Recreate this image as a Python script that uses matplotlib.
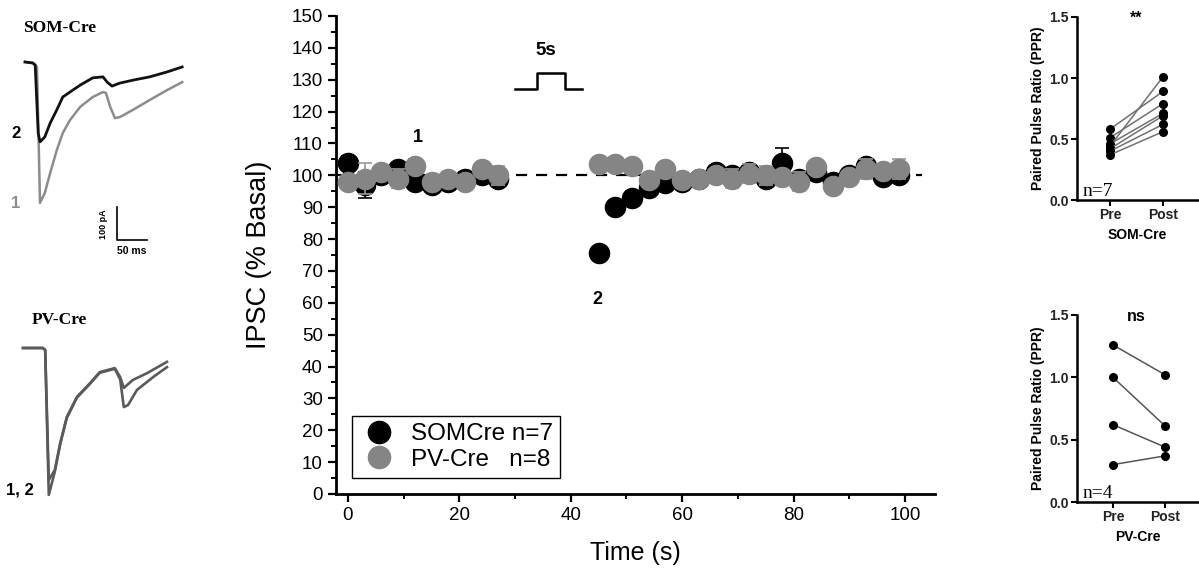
import matplotlib
matplotlib.use("Agg")
import matplotlib.pyplot as plt
from matplotlib.lines import Line2D
from matplotlib.ticker import MultipleLocator

plt.rcParams['font.family'] = ['Liberation Sans', 'DejaVu Sans']

# ---------------- data ----------------
t_pre = [0, 3, 6, 9, 12, 15, 18, 21, 24, 27]
t_post = [45, 48, 51, 54, 57, 60, 63, 66, 69, 72, 75, 78, 81, 84, 87, 90, 93, 96, 99]

som_pre = [104, 97, 100, 102, 98, 97, 98, 99, 100, 99]
som_pre_err = [2, 4, 2, 2, 2, 2, 2, 2, 2, 2]
pv_pre = [98, 99, 101, 99, 103, 98, 99, 98, 102, 100]
pv_pre_err = [2, 5, 2, 3, 2, 2, 2, 2, 2, 3]

som_post = [75.5, 90, 93, 96, 97.5, 98, 99, 101, 100, 101, 99, 104, 99, 101, 98, 100, 103, 99.5, 100]
som_post_err = [2, 2, 2, 2, 2, 2, 2, 2, 2, 2, 2, 4.5, 2, 2, 2, 2, 2, 2, 2]
pv_post = [103.5, 103.5, 103, 98.5, 102, 98.5, 99, 100, 99, 100.5, 100, 99.5, 98, 102.5, 96.5, 99.5, 102, 101.5, 102]
pv_post_err = [1.5, 1.5, 1.5, 2, 2, 2, 2, 2, 3, 3, 3, 2, 3, 2, 2, 2, 3, 2, 3]

# PPR panels
groups = ['Pre', 'Post']
som_ppr_pre = [0.58, 0.51, 0.44, 0.46, 0.42, 0.40, 0.37]
som_ppr_post = [0.89, 0.79, 1.01, 0.71, 0.69, 0.62, 0.56]
pv_ppr_pre = [1.26, 1.00, 0.62, 0.30]
pv_ppr_post = [1.02, 0.61, 0.44, 0.37]

# example traces (ms, pA relative to baseline)
som_t1 = [0, 13, 20, 25, 33, 42, 53, 63, 75, 92, 113, 130, 135, 142, 150, 158, 180, 208, 237, 262]
som_i1 = [0, -3, -15, -427, -397, -336, -267, -215, -176, -136, -106, -91, -94, -136, -170, -167, -145, -115, -85, -61]
som_t2 = [0, 13, 17, 22, 25, 33, 42, 53, 63, 75, 92, 113, 130, 137, 145, 158, 180, 208, 237, 262]
som_i2 = [0, -3, -9, -215, -242, -227, -185, -145, -106, -91, -70, -48, -45, -61, -73, -64, -55, -45, -30, -15]

pv_t1 = [0, 33, 37, 43, 53, 62, 73, 90, 112, 128, 153, 162, 168, 183, 207, 240]
pv_i1 = [0, 0, -6, -400, -370, -288, -209, -148, -106, -73, -61, -88, -121, -97, -76, -42]
pv_t2 = [0, 33, 37, 43, 53, 62, 73, 90, 112, 128, 153, 162, 168, 175, 190, 217, 240]
pv_i2 = [0, 0, -6, -445, -375, -292, -212, -150, -108, -75, -63, -95, -179, -173, -127, -88, -58]

# ---------------- figure ----------------
W, H = 1199, 571
fig = plt.figure(figsize=(W / 100, H / 100), dpi=100)


def px_axes(x0, y0, x1, y1):
    return fig.add_axes([x0 / W, 1 - y1 / H, (x1 - x0) / W, (y1 - y0) / H])


BLACK = '#000000'
GRAY = '#858585'

# ---------- main axes ----------
ax = px_axes(336, 16, 935, 494)
ax.set_xlim(-2.15, 105.4)
ax.set_ylim(0, 150)

ax.plot([-2.15, 103], [100, 100], ls=(0, (5, 4)), color='black', lw=1.6, zorder=1)

for tt, vv, ee in [(t_pre, som_pre, som_pre_err), (t_post, som_post, som_post_err)]:
    ax.errorbar(tt, vv, yerr=ee, fmt='o', color=BLACK, ms=14.5, ecolor='black',
                elinewidth=1.2, capsize=5, capthick=1.2, zorder=2)
for tt, vv, ee in [(t_pre, pv_pre, pv_pre_err), (t_post, pv_post, pv_post_err)]:
    ax.errorbar(tt, vv, yerr=ee, fmt='o', color=GRAY, ms=14.5, ecolor='#9a9a9a',
                elinewidth=1.2, capsize=5, capthick=1.2, zorder=3)

for s in ['top', 'right']:
    ax.spines[s].set_visible(False)
for s in ['left', 'bottom']:
    ax.spines[s].set_linewidth(2)
ax.yaxis.set_major_locator(MultipleLocator(10))
ax.yaxis.set_minor_locator(MultipleLocator(5))
ax.xaxis.set_major_locator(MultipleLocator(20))
ax.xaxis.set_minor_locator(MultipleLocator(10))
ax.tick_params(which='major', length=6, width=1.6, labelsize=13.5, direction='out')
ax.tick_params(which='minor', length=3.5, width=1.4, direction='out')
ax.set_xticks([0, 20, 40, 60, 80, 100])
ax.set_ylabel('IPSC (% Basal)', fontsize=19.5, labelpad=14)
ax.set_xlabel('Time (s)', fontsize=18, labelpad=12)

# stimulus symbol
ax.plot([30, 34, 34, 39, 39, 42], [127, 127, 132, 132, 127, 127], color='black', lw=1.8)
ax.text(35.6, 136.5, '5s', ha='center', va='bottom', fontsize=13.5, fontweight='bold')
ax.text(12.5, 112, '1', ha='center', va='center', fontsize=13, fontweight='bold')
ax.text(44.7, 61, '2', ha='center', va='center', fontsize=13, fontweight='bold')

handles = [Line2D([], [], ls='none', marker='o', color=BLACK, ms=16),
           Line2D([], [], ls='none', marker='o', color=GRAY, ms=16)]
leg = ax.legend(handles, ['SOMCre n=7', 'PV-Cre   n=8'], loc='lower left',
                bbox_to_anchor=(0.027, 0.033), fontsize=17.5, fancybox=False,
                edgecolor='black', framealpha=1, handletextpad=0.5,
                borderpad=0.3, labelspacing=0.15, handlelength=1.6,
                borderaxespad=0)
leg.get_frame().set_linewidth(1.0)

# ---------- PPR panels ----------
def ppr_panel(box, xl, pre, post, title, xlabel, ntext, lcolor):
    a = px_axes(*box)
    for p, q in zip(pre, post):
        a.plot([0, 1], [p, q], color=lcolor, lw=1.1, marker='o', ms=5.5,
               mfc='black', mec='black')
    a.set_xlim(*xl)
    a.set_ylim(0, 1.5)
    a.set_yticks([0.0, 0.5, 1.0, 1.5])
    a.set_yticklabels(['0.0', '0.5', '1.0', '1.5'])
    a.set_xticks([0, 1])
    a.set_xticklabels(groups)
    for s in ['top', 'right']:
        a.spines[s].set_visible(False)
    for s in ['left', 'bottom']:
        a.spines[s].set_linewidth(1.8)
    a.tick_params(length=4, width=1.5, labelsize=10, pad=2)
    for lab in a.get_xticklabels() + a.get_yticklabels():
        lab.set_fontweight('bold')
        lab.set_color('#222222')
    a.set_ylabel('Paired Pulse Ratio (PPR)', fontsize=10, fontweight='bold', labelpad=3)
    a.set_xlabel(xlabel, fontsize=10, fontweight='bold', labelpad=4)
    a.text(0.5 * (xl[0] + xl[1]) - 0.03, 1.49, title, ha='center', va='center',
           fontsize=11.5, fontweight='bold')
    a.text(xl[0] + 0.1, 0.0, ntext, ha='left', va='bottom', fontsize=14,
           family=['Liberation Serif', 'DejaVu Serif'])
    return a

ppr_panel((1077, 17, 1198, 200), (-0.62, 1.66), som_ppr_pre, som_ppr_post,
          '**', 'SOM-Cre', 'n=7', '#707070')
ppr_panel((1077, 315, 1199, 502), (-0.69, 1.65), pv_ppr_pre, pv_ppr_post,
          'ns', 'PV-Cre', 'n=4', '#555555')

# ---------- example traces ----------
PXMS = 1.667   # ms per pixel
PXPA = 3.03    # pA per pixel


def trace_axes(x0, y0, x1, y1, base_x, base_y):
    a = px_axes(x0, y0, x1, y1)
    a.set_xlim((x0 - base_x) * PXMS, (x1 - base_x) * PXMS)
    a.set_ylim(-(y1 - base_y) * PXPA, -(y0 - base_y) * PXPA)
    a.axis('off')
    return a

ta = trace_axes(0, 20, 200, 280, 25, 62)
ta.plot(som_t1, som_i1, color='#8c8c8c', lw=1.8)
ta.plot(som_t2, som_i2, color='#111111', lw=2.0)
# scale bar: 100 pA / 50 ms
sb_x, sb_y = 153, -539
ta.plot([sb_x, sb_x, sb_x + 50], [sb_y + 100, sb_y, sb_y], color='black', lw=1.2)

fig.text(23 / W, 1 - 28 / H, 'SOM-Cre', fontsize=12.5, fontweight='bold',
         family=['Liberation Serif', 'DejaVu Serif'], va='center')
fig.text(16 / W, 1 - 133 / H, '2', fontsize=12, fontweight='bold', ha='center', va='center')
fig.text(16 / W, 1 - 203 / H, '1', fontsize=12, fontweight='bold', ha='center', va='center',
         color='#8c8c8c')
fig.text(103 / W, 1 - 224 / H, '100 pA', fontsize=6.5, fontweight='bold', rotation=90,
         ha='center', va='center')
fig.text(132 / W, 1 - 251 / H, '50 ms', fontsize=7.5, fontweight='bold', ha='center',
         va='center')

tb = trace_axes(0, 300, 200, 560, 23, 348)
tb.plot(pv_t2, pv_i2, color='#5a5a5a', lw=1.9)
tb.plot(pv_t1, pv_i1, color='#5a5a5a', lw=1.9)
fig.text(32 / W, 1 - 320 / H, 'PV-Cre', fontsize=12.5, fontweight='bold',
         family=['Liberation Serif', 'DejaVu Serif'], va='center')
fig.text(20 / W, 1 - 490 / H, '1, 2', fontsize=12, fontweight='bold', ha='center', va='center')

fig.savefig('out.png', dpi=100)
